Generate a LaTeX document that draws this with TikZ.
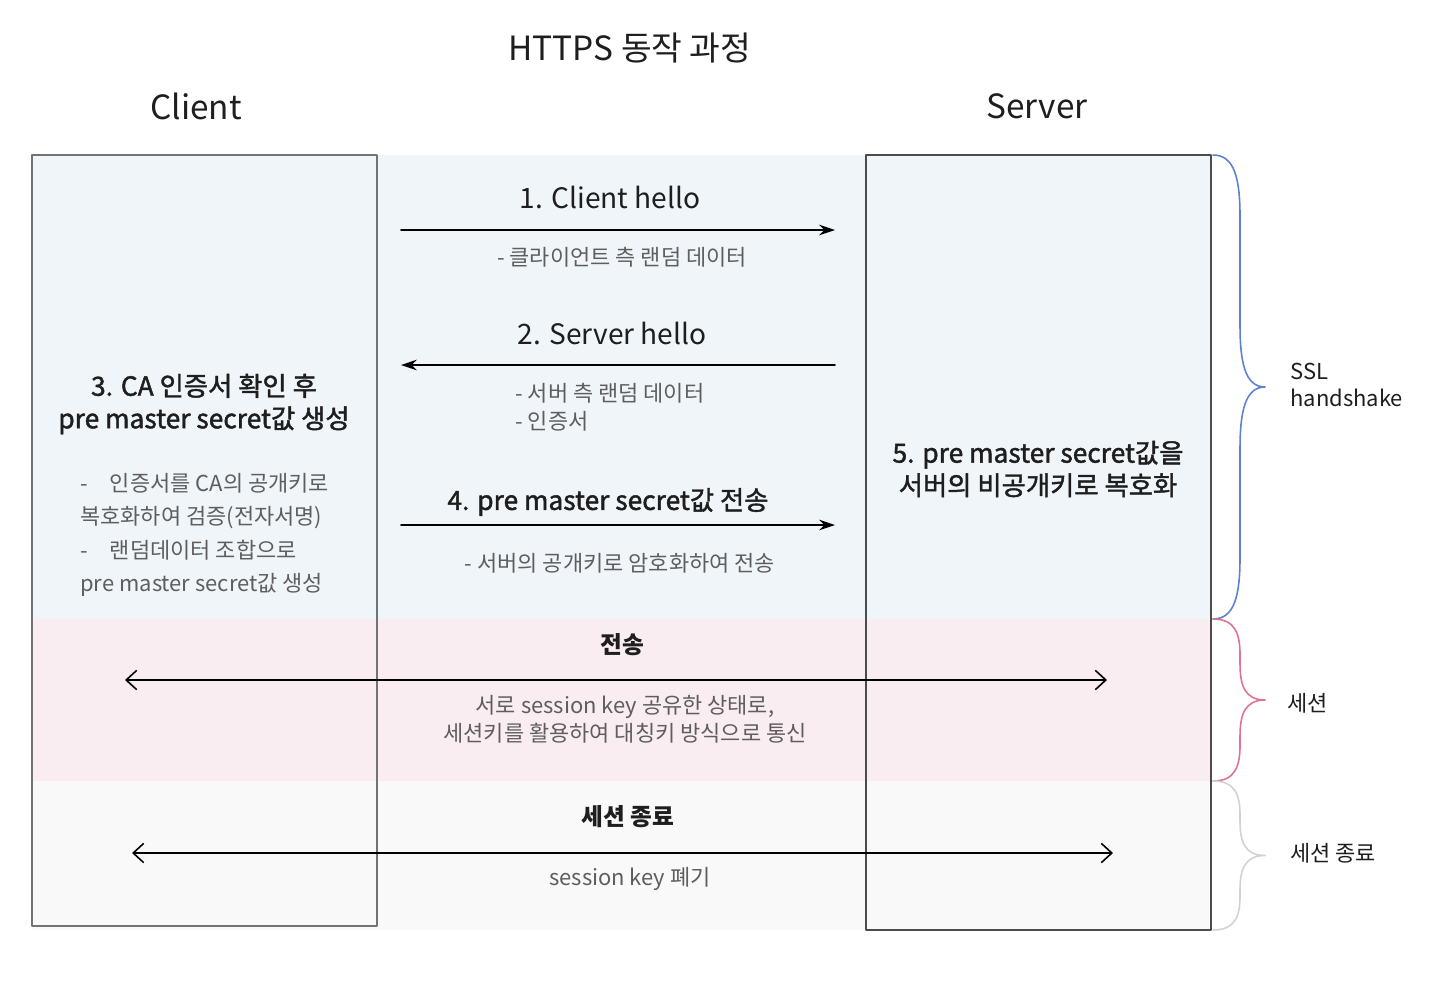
\documentclass[tikz,border=0pt]{standalone}
\usepackage{fontspec}
\setmainfont{Noto Sans CJK KR}
\newfontfamily\midfont{Noto Sans CJK KR}[FakeBold=1.6]
\usetikzlibrary{arrows.meta}
\definecolor{bandblue}{HTML}{F0F5FA}
\definecolor{bandpink}{HTML}{FAEDF1}
\definecolor{bandgrey}{HTML}{F9F9F9}
\definecolor{txtdark}{HTML}{1E1E1E}
\definecolor{txtgrey}{HTML}{5E5E5E}
\definecolor{braceblue}{HTML}{5D80CF}
\definecolor{bracepink}{HTML}{E27092}
\definecolor{bracegrey}{HTML}{D2D2D2}
% side brace: colour, x, top, bottom, curl
\newcommand{\sidebrace}[5]{%
  \draw[#1, line width=0.9pt]
    (#2,#3) .. controls ({#2+22},#3) and ({#2+27},{#3+0.4*#5}) .. ({#2+27},{#3+#5})
    -- ({#2+27},{(#3+#4)/2-#5})
    .. controls ({#2+27},{(#3+#4)/2-0.4*#5}) and ({#2+32},{(#3+#4)/2}) .. ({#2+52},{(#3+#4)/2})
    .. controls ({#2+32},{(#3+#4)/2}) and ({#2+27},{(#3+#4)/2+0.4*#5}) .. ({#2+27},{(#3+#4)/2+#5})
    -- ({#2+27},{#4-#5})
    .. controls ({#2+27},{#4-0.4*#5}) and ({#2+22},#4) .. (#2,#4);}
\begin{document}
\begin{tikzpicture}[x=0.02cm, y=-0.02cm, line join=round, line cap=round,
    every node/.style={inner sep=0pt, text=txtdark},
    head/.style={font=\fontsize{19}{23}\selectfont},
    steplabel/.style={font=\fontsize{16}{19}\selectfont},
    midlabel/.style={font=\midfont\fontsize{15}{18.5}\selectfont, align=center},
    boldhead/.style={font=\bfseries\fontsize{13.5}{17}\selectfont},
    note/.style={font=\fontsize{12.5}{16}\selectfont, text=txtgrey},
    side/.style={font=\fontsize{12.5}{15.5}\selectfont, align=left, anchor=west},
    boxline/.style={draw=black!55, line width=0.9pt},
    msg/.style={line width=0.9pt, -{Stealth[length=9pt, width=6pt]}},
    talk/.style={line width=0.9pt, {Straight Barb[length=6pt, width=11pt]}-{Straight Barb[length=6pt, width=11pt]}}]
\useasboundingbox (0,0) rectangle (1452,988);

% bands
\fill[bandblue] (32,155) rectangle (1211,619);
\fill[bandpink] (32,619) rectangle (1211,781);
\fill[bandgrey] (32,781) rectangle (1211,930);

% client / server columns
\draw[boxline] (32,155) rectangle (377,926);
\draw[boxline, draw=black!70] (866,155) rectangle (1211,930);

% headings
\node[head] (title) at (630,48) {HTTPS 동작 과정};
\node[head] (client) at (196,106) {Client};
\node[head] (server) at (1037,106) {Server};

% arrow ends
\coordinate (a1s) at (401,230);  \coordinate (a1e) at (835,230);
\coordinate (a2s) at (835,365);  \coordinate (a2e) at (401,365);
\coordinate (a4s) at (401,525);  \coordinate (a4e) at (835,525);
\coordinate (t1s) at (125,680);  \coordinate (t1e) at (1107,680);
\coordinate (t2s) at (132,853);  \coordinate (t2e) at (1113,853);

% 1. client hello
\node[steplabel] (hello1) at (610,197) {1. Client hello};
\draw[msg] (a1s) -- (a1e);
\node[note] (note1) at (622,257) {- 클라이언트 측 랜덤 데이터};

% 2. server hello
\node[steplabel] (hello2) at (612,333) {2. Server hello};
\draw[msg] (a2s) -- (a2e);
\node[note, align=left, anchor=north west] (note2) at (515,383) {- 서버 측 랜덤 데이터\\- 인증서};

% 3. client side
\node[midlabel] (step3) at (204,404) {3. CA 인증서 확인 후\\pre master secret값 생성};
\node[note, align=left, anchor=north west, font=\fontsize{12.5}{19}\selectfont] (note3) at (80,473)
  {-\quad 인증서를 CA의 공개키로\\복호화하여 검증(전자서명)\\-\quad 랜덤데이터 조합으로\\pre master secret값 생성};

% 4. pre master secret
\node[midlabel] (step4) at (608,502) {4. pre master secret값 전송};
\draw[msg] (a4s) -- (a4e);
\node[note] (note4) at (620,563) {- 서버의 공개키로 암호화하여 전송};

% 5. server side
\node[midlabel] (step5) at (1038,469) {5. pre master secret값을\\서버의 비공개키로 복호화};

% session
\node[boldhead] (sendhead) at (622,645) {전송};
\draw[talk] (t1s) -- (t1e);
\node[note, align=center] (sendnote) at (625,719) {서로 session key 공유한 상태로,\\세션키를 활용하여 대칭키 방식으로 통신};

% session end
\node[boldhead] (endhead) at (628,817) {세션 종료};
\draw[talk] (t2s) -- (t2e);
\node[note] (endnote) at (630,879) {session key 폐기};

% braces
\sidebrace{braceblue}{1213}{155}{619}{62}
\sidebrace{bracepink}{1213}{619}{781}{36}
\sidebrace{bracegrey}{1213}{781}{930}{34}
\node[side] (ssl) at (1290,385) {SSL\\handshake};
\node[side] (ses) at (1287,703) {세션};
\node[side] (sesend) at (1290,853) {세션 종료};
\end{tikzpicture}
\end{document}
